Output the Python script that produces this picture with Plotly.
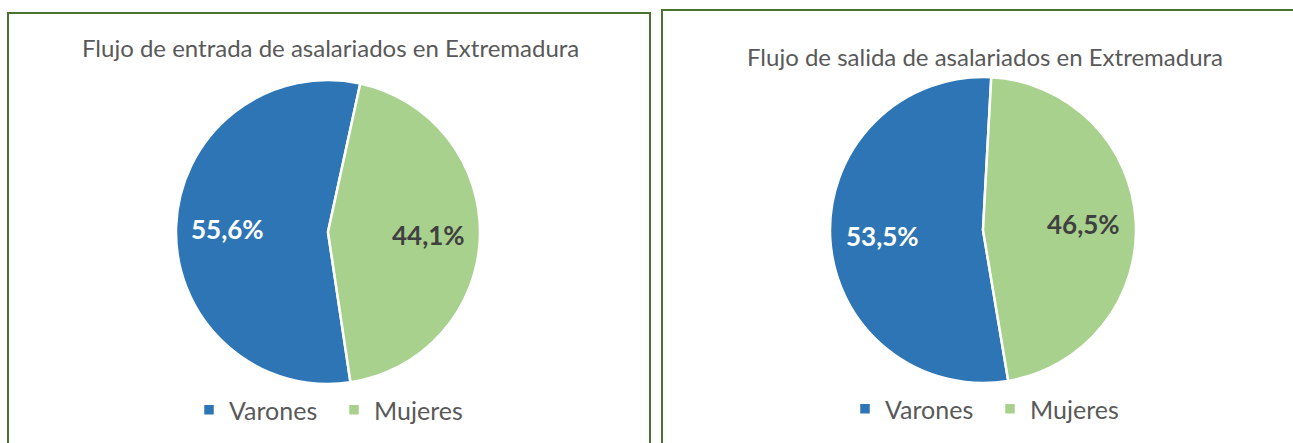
import math
import plotly.graph_objects as go

W, H = 1293, 443

labels = ["Varones", "Mujeres"]
entrada_vals = [55.6, 44.1]
salida_vals = [53.5, 46.5]
entrada_text = ["55,6%", "44,1%"]
salida_text = ["53,5%", "46,5%"]
titles = ["Flujo de entrada de asalariados en Extremadura",
          "Flujo de salida de asalariados en Extremadura"]

colors = ["#2E75B6", "#A9D18E"]
text_colors = ["#FFFFFF", "#404040"]
BORDER = "#4A7330"
FONT = "Lato"
GRAY = "#595959"

def px(x):
    return x / W

def py(y):
    return 1 - y / H

# pie layout: (centre x, centre y, radius) in pixels, rotation
# the second pie's labels get an invisible suffix so that each pie keeps its own legend
pies = [
    dict(vals=entrada_vals, text=entrada_text, cx=328, cy=232, r=152,
         rotation=171.5, legend="legend", title=titles[0], ty=48, suffix=""),
    dict(vals=salida_vals, text=salida_text, cx=983, cy=230, r=153,
         rotation=170.5, legend="legend2", title=titles[1], ty=57, suffix="\u200b"),
]

fig = go.Figure()
annotations = []
for p in pies:
    fig.add_trace(go.Pie(
        labels=[l + p["suffix"] for l in labels], values=p["vals"], text=p["text"],
        textinfo="none", sort=False,
        direction="clockwise", rotation=p["rotation"],
        marker=dict(colors=colors, line=dict(color="white", width=2.5)),
        domain=dict(x=[px(p["cx"] - p["r"]), px(p["cx"] + p["r"])],
                    y=[py(p["cy"] + p["r"]), py(p["cy"] - p["r"])]),
        legend=p["legend"], hoverinfo="label+text",
    ))
    # data labels at the middle angle of each slice, 0.66 of the radius
    total = sum(p["vals"])
    start = p["rotation"]
    for v, t, c in zip(p["vals"], p["text"], text_colors):
        span = 360 * v / total
        mid = math.radians(start + span / 2)
        lx = p["cx"] + 0.66 * p["r"] * math.sin(mid)
        ly = p["cy"] - 0.66 * p["r"] * math.cos(mid)
        annotations.append(dict(
            text=t, xref="paper", yref="paper", x=px(lx), y=py(ly),
            xanchor="center", yanchor="middle", showarrow=False,
            font=dict(family=FONT, size=26, color=c, weight="bold")))
        start += span
    annotations.append(dict(
        text=p["title"], xref="paper", yref="paper", x=px(p["cx"] + 2), y=py(p["ty"]),
        xanchor="center", yanchor="middle", showarrow=False,
        font=dict(family=FONT, size=24, color=GRAY)))

legend_common = dict(
    orientation="h", xanchor="center", yanchor="middle",
    font=dict(family=FONT, size=25, color=GRAY),
    bgcolor="rgba(0,0,0,0)", itemwidth=30, tracegroupgap=0,
    entrywidth=100, entrywidthmode="pixels",
)
fig.update_layout(
    width=W, height=H,
    margin=dict(l=0, r=0, t=0, b=0),
    paper_bgcolor="white", plot_bgcolor="white",
    showlegend=True,
    legend=dict(x=px(334), y=py(410), **legend_common),
    legend2=dict(x=px(990), y=py(409), **legend_common),
    shapes=[
        dict(type="rect", xref="paper", yref="paper",
             x0=px(8), x1=px(650), y0=-0.2, y1=py(13),
             line=dict(color=BORDER, width=2)),
        dict(type="rect", xref="paper", yref="paper",
             x0=px(662), x1=1.2, y0=-0.2, y1=py(10),
             line=dict(color=BORDER, width=2)),
    ],
    annotations=annotations,
)

fig.write_html("out.html", config={"displayModeBar": False},
               post_script="document.body.style.margin='0';document.body.style.overflow='hidden';")
